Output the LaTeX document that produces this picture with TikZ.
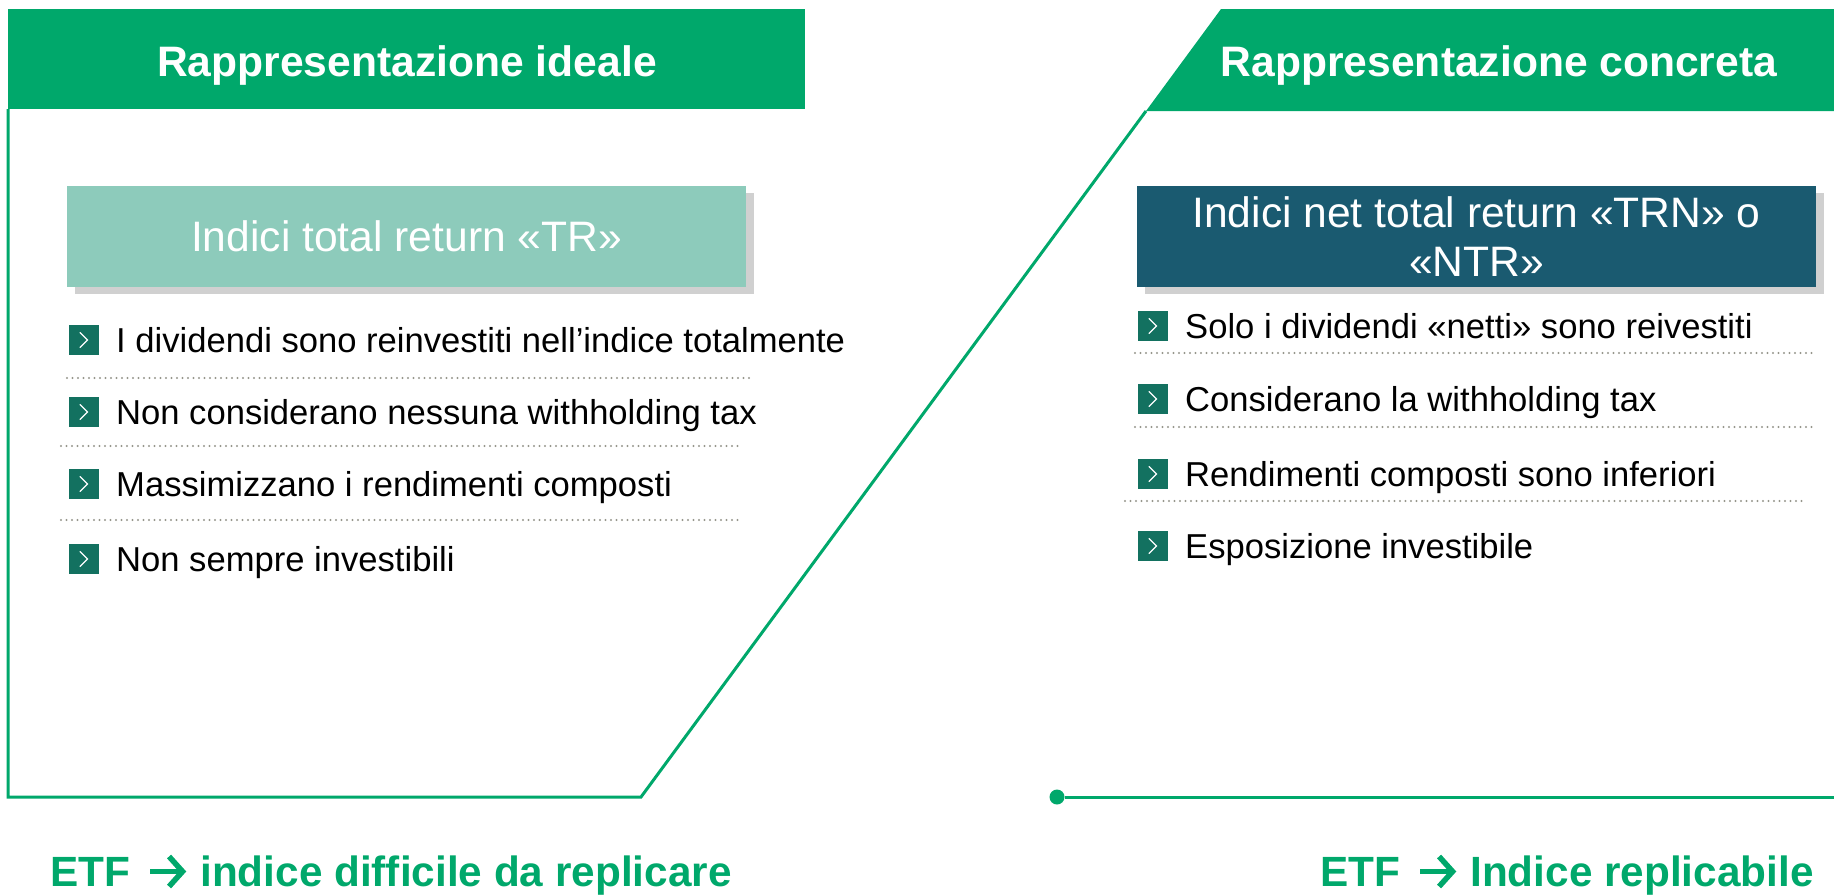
\documentclass[tikz,border=0pt]{standalone}
\usepackage{fontspec}
\setmainfont{Liberation Sans}
\definecolor{brandgreen}{RGB}{0,168,107}
\definecolor{lightteal}{RGB}{141,203,187}
\definecolor{darkteal}{RGB}{26,90,112}
\definecolor{icongreen}{RGB}{19,113,96}
\definecolor{shadowgrey}{RGB}{208,208,208}
\definecolor{dotgrey}{RGB}{150,150,140}
\newcommand{\etfarrow}{\hspace{17pt}\tikz[x=1pt,y=1pt,baseline=0pt]{%
  \draw[line width=5.5pt,brandgreen] (0,14.5)--(32,14.5);
  \draw[line width=5.5pt,brandgreen,line join=miter,miter limit=4] (19,-0.5)--(32.5,14.5)--(19,29.5);}\hspace{15pt}}
\begin{document}
\begin{tikzpicture}[x=1pt,y=-1pt,
  hdrtext/.style={text=white,font=\fontsize{42.6}{50}\selectfont\bfseries,inner sep=0},
  titlebox/.style={minimum width=679pt,minimum height=101pt,inner sep=0,text=white,align=center,font=\fontsize{42.6}{49}\selectfont},
  shadowbox/.style={fill=shadowgrey,minimum width=679pt,minimum height=101pt,inner sep=0},
  iconbox/.style={fill=icongreen,minimum size=30pt,inner sep=0,
    path picture={\draw[white,line width=1.2pt,line cap=round,line join=miter]
      ([shift={(-4pt,7.5pt)}]path picture bounding box.center) --
      ([shift={(3.5pt,0pt)}]path picture bounding box.center) --
      ([shift={(-4pt,-7.5pt)}]path picture bounding box.center);}},
  bullettext/.style={anchor=base west,inner sep=0,font=\fontsize{34.6}{40}\selectfont,text=black},
  dotline/.style={draw=dotgrey,line width=2.2pt,line cap=round,dash pattern=on 0pt off 5.5pt},
  greenline/.style={draw=brandgreen,line width=3pt},
  bottomtext/.style={anchor=base,inner sep=0,text=brandgreen,font=\fontsize{42.3}{49}\selectfont\bfseries}]
\useasboundingbox (0,0) rectangle (1834,895);
% headers
\fill[brandgreen] (8,9) rectangle (805,109);
\node[hdrtext,anchor=base] (hl) at (407,76) {Rappresentazione ideale};
\fill[brandgreen] (1221,9) -- (1834,9) -- (1834,111) -- (1146,111) -- cycle;
\node[hdrtext,anchor=base] (hr) at (1499,76) {Rappresentazione concreta};
% outline
\draw[greenline,line join=miter] (8,109) -- (8,797) -- (641,797) -- (1146,111);
\node[circle,fill=brandgreen,minimum width=13pt,minimum height=15pt,inner sep=0] (dot) at (1057,797) {};
\coordinate (rend) at (1834,797);
\draw[greenline] (dot) -- (rend);
% title boxes
\node[shadowbox] (ls) at (414.5,243.5) {};
\node[titlebox,fill=lightteal] (lb) at (406.5,236.5) {Indici total return «TR»};
\node[shadowbox] (rs) at (1484.5,243.5) {};
\node[titlebox,fill=darkteal] (rb) at (1476.5,236.5) {Indici net total return «TRN» o\\«NTR»};
% left bullets
\foreach \y/\t [count=\i] in {340/I dividendi sono reinvestiti nell’indice totalmente,
  412/Non considerano nessuna withholding tax,
  484/Massimizzano i rendimenti composti,
  559/Non sempre investibili}{
  \node[iconbox] (li\i) at (84,\y) {};
  \node[bullettext] (lt\i) at (116,\y+12.4) {\t};
}
\draw[dotline] (67,378) -- (749,378);
\draw[dotline] (61,446) -- (742,446);
\draw[dotline] (61,520) -- (742,520);
% right bullets
\foreach \y/\t [count=\i] in {326/Solo i dividendi «netti» sono reivestiti,
  399/Considerano la withholding tax,
  474/Rendimenti composti sono inferiori,
  546/Esposizione investibile}{
  \node[iconbox] (ri\i) at (1153,\y) {};
  \node[bullettext] (rt\i) at (1185,\y+12.4) {\t};
}
\draw[dotline] (1135,353) -- (1816,353);
\draw[dotline] (1135,427) -- (1816,427);
\draw[dotline] (1125,501) -- (1805,501);
% bottom texts
\node[bottomtext] (bl) at (391,886) {ETF\etfarrow indice difficile da replicare};
\node[bottomtext] (br) at (1567,886) {ETF\etfarrow Indice replicabile};
\end{tikzpicture}
\end{document}
